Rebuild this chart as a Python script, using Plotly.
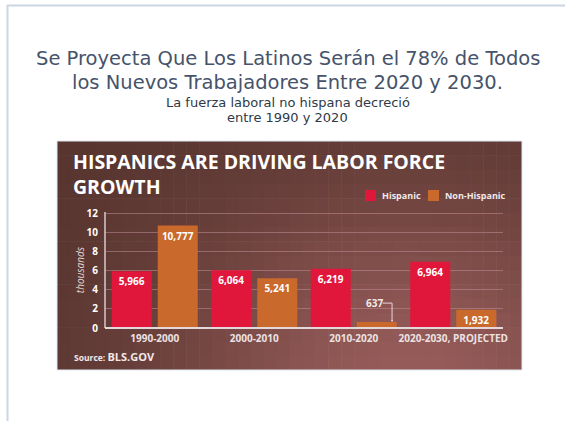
import math
import plotly.graph_objects as go

# ---------------- data ----------------
categories = ["1990-2000", "2000-2010", "2010-2020", "2020-2030, PROJECTED"]
hispanic = [5966, 6064, 6219, 6964]
non_hispanic = [10777, 5241, 637, 1932]
y_ticks = [0, 2, 4, 6, 8, 10, 12]

slide_title = ["Se Proyecta Que Los Latinos Serán el 78% de Todos",
               "los Nuevos Trabajadores Entre 2020 y 2030."]
slide_sub = ["La fuerza laboral no hispana decreció", "entre 1990 y 2020"]
chart_title = ["HISPANICS ARE DRIVING LABOR FORCE", "GROWTH"]
series_names = ["Hispanic", "Non-Hispanic"]

W, H = 565, 421
PL, PR, PT, PB = 105, 503, 212, 328
YMAX = 12.2


def px(x):
    return (x - PL) / (PR - PL)


def py(y):
    return (PB - y) / (PB - PT)


RED = "#E0173B"
ORANGE = "#C9692C"
LIGHT = "#F2E8E8"
colors = [RED, ORANGE]

fig = go.Figure()
for name, vals, col in zip(series_names, [hispanic, non_hispanic], colors):
    fig.add_bar(
        name=name, x=categories, y=[v / 1000 for v in vals],
        marker=dict(color=col, line=dict(width=0)),
        text=[f"{v:,}" for v in vals],
        textposition=["inside" if v > 1500 else "none" for v in vals],
        insidetextanchor="end", constraintext="none",
        insidetextfont=dict(family="Open Sans", size=10, color="white", weight="bold"),
        textangle=0, cliponaxis=False, showlegend=False,
    )

shapes = []
# background gradient of the chart panel
bx0, bx1, by0, by1 = 57, 522, 141, 370
nx, ny = 36, 16
dark = (86, 52, 46)
light = (150, 92, 90)
for i in range(nx):
    for j in range(ny):
        x0 = bx0 + (bx1 - bx0) * i / nx
        x1 = bx0 + (bx1 - bx0) * (i + 1) / nx
        y0 = by0 + (by1 - by0) * j / ny
        y1 = by0 + (by1 - by0) * (j + 1) / ny
        cx, cy = (x0 + x1) / 2, (y0 + y1) / 2
        f = math.exp(-(((cx - 410) / 250) ** 2 + ((cy - 385) / 200) ** 2))
        c = tuple(int(d + (l - d) * f) for d, l in zip(dark, light))
        shapes.append(dict(
            type="rect", xref="paper", yref="paper", layer="below",
            x0=px(x0), x1=px(min(x1 + 0.6, bx1)), y0=py(y0), y1=py(min(y1 + 0.6, by1)),
            fillcolor="rgb(%d,%d,%d)" % c, line=dict(width=0),
        ))
# faint panel outline
shapes.append(dict(type="rect", xref="paper", yref="paper", layer="below",
                   x0=px(bx0), x1=px(bx1), y0=py(by0), y1=py(by1),
                   line=dict(color="#DDE8F0", width=1)))
# slide frame lines
shapes.append(dict(type="line", xref="paper", yref="paper", x0=px(7), x1=px(565),
                   y0=py(5.5), y1=py(5.5), line=dict(color="#CBD5E3", width=2)))
shapes.append(dict(type="line", xref="paper", yref="paper", x0=px(7.5), x1=px(7.5),
                   y0=py(5), y1=py(421), line=dict(color="#CBD5E3", width=2)))
# y axis line and baseline
shapes.append(dict(type="line", xref="paper", yref="paper", x0=0, x1=0, y0=0, y1=1,
                   line=dict(color="#D9C8CC", width=1.5)))
shapes.append(dict(type="line", xref="paper", yref="paper", x0=0, x1=1, y0=0, y1=0,
                   line=dict(color="#E4D8DA", width=2)))
# connector for the small "637" label
k = categories.index("2010-2020")
v637 = non_hispanic[k] / 1000
shapes.append(dict(type="path", xref="x", yref="y",
                   path=f"M {k + 0.29},{v637 + 1.98} L {k + 0.385},{v637 + 1.98} L {k + 0.385},{v637 + 0.12}",
                   line=dict(color="#E6D8DC", width=1)))
shapes.append(dict(type="circle", xref="x", yref="y",
                   x0=k + 0.375, x1=k + 0.395, y0=v637 + 0.04, y1=v637 + 0.2,
                   fillcolor="#F2E8E8", line=dict(width=0)))
# custom legend squares
leg_sq_x = [365, 428]
for xs, col in zip(leg_sq_x, colors):
    shapes.append(dict(type="rect", xref="paper", yref="paper",
                       x0=px(xs), x1=px(xs + 11), y0=py(190), y1=py(201),
                       fillcolor=col, line=dict(width=0)))

annotations = []
for line, yc in zip(slide_title, [58.5, 82.5]):
    annotations.append(dict(text=line, x=px(287.5), y=py(yc), xref="paper", yref="paper",
                            xanchor="center", yanchor="middle", showarrow=False,
                            font=dict(family="DejaVu Sans", size=19.5, color="#46536A")))
for line, yc in zip(slide_sub, [102.5, 117.5]):
    annotations.append(dict(text=line, x=px(287.5), y=py(yc), xref="paper", yref="paper",
                            xanchor="center", yanchor="middle", showarrow=False,
                            font=dict(family="DejaVu Sans", size=13, color="#2F3A48")))
for line, yc in zip(chart_title, [161.5, 186]):
    annotations.append(dict(text=line, x=px(71), y=py(yc), xref="paper", yref="paper",
                            xanchor="left", yanchor="middle", showarrow=False,
                            font=dict(family="Open Sans", size=19.5, color="white", weight="bold")))
annotations.append(dict(text="<b><span style='font-size:8.5px'>Source: </span>BLS.GOV</b>",
                        x=px(72), y=py(356), xref="paper", yref="paper",
                        xanchor="left", yanchor="middle", showarrow=False,
                        font=dict(family="Open Sans", size=11, color=LIGHT)))
annotations.append(dict(text=f"{non_hispanic[k]:,}", x=k + 0.205, y=v637 + 1.98, xref="x", yref="y",
                        xanchor="center", yanchor="middle", showarrow=False,
                        font=dict(family="Open Sans", size=10, color=LIGHT, weight="bold")))
for xs, name in zip(leg_sq_x, series_names):
    annotations.append(dict(text=name, x=px(xs + 15), y=py(195.5), xref="paper", yref="paper",
                            xanchor="left", yanchor="middle", showarrow=False,
                            font=dict(family="Open Sans", size=9, color=LIGHT, weight="bold")))

fig.update_layout(
    width=W, height=H,
    margin=dict(l=PL, r=W - PR, t=PT, b=H - PB, pad=0),
    paper_bgcolor="white", plot_bgcolor="rgba(0,0,0,0)",
    barmode="group", bargap=0.075, bargroupgap=0.13,
    shapes=shapes, annotations=annotations,
    showlegend=False,
    font=dict(family="Open Sans"),
)
fig.update_xaxes(showgrid=False, zeroline=False, showline=False, ticks="",
                 ticklabelstandoff=3,
                 tickfont=dict(family="Open Sans", size=10, color="#EDE2E2", weight="bold"))
fig.update_yaxes(range=[0, YMAX], tickvals=y_ticks, showgrid=True, gridcolor="rgba(190,140,150,0.55)",
                 gridwidth=1, zeroline=False, showline=False, ticks="",
                 ticklabelstandoff=6,
                 tickfont=dict(family="Open Sans", size=10, color="white", weight="bold"),
                 title=dict(text="thousands", standoff=0,
                            font=dict(family="Open Sans", size=10, color="#E8DCDC", style="italic")))

fig.write_html("out.html", config={"displayModeBar": False},
               post_script="document.body.style.margin='0';")
